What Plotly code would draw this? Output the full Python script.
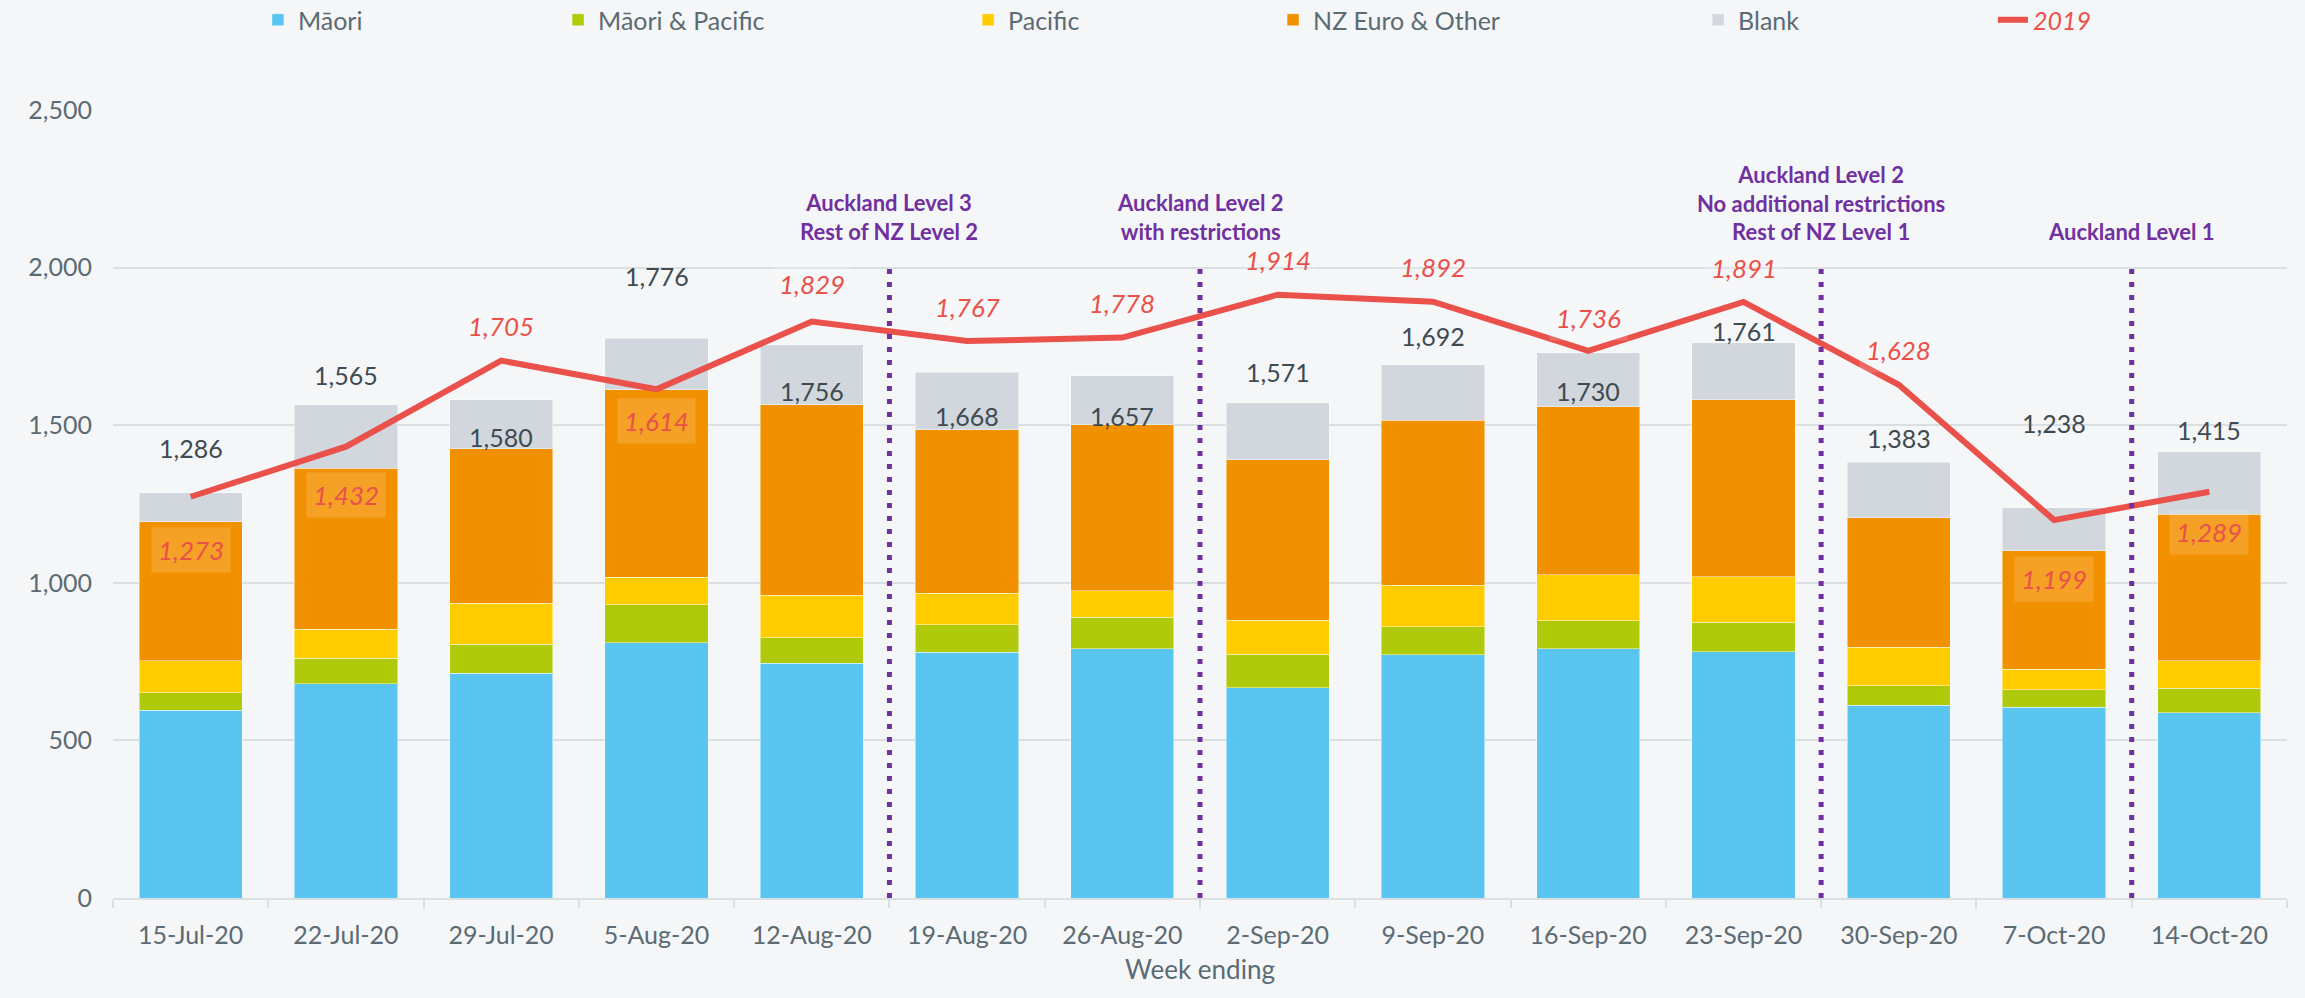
import plotly.graph_objects as go

weeks = ["15-Jul-20", "22-Jul-20", "29-Jul-20", "5-Aug-20", "12-Aug-20", "19-Aug-20",
         "26-Aug-20", "2-Sep-20", "9-Sep-20", "16-Sep-20", "23-Sep-20", "30-Sep-20",
         "7-Oct-20", "14-Oct-20"]

maori = [595, 680, 713, 810, 745, 780, 790, 667, 772, 790, 782, 612, 605, 588]
maori_pacific = [56, 80, 92, 120, 80, 87, 100, 107, 88, 90, 93, 62, 55, 77]
pacific = [102, 93, 130, 88, 135, 100, 85, 107, 133, 145, 145, 122, 65, 87]
nz_euro_other = [440, 510, 490, 594, 605, 518, 527, 509, 522, 533, 560, 410, 377, 465]
totals = [1286, 1565, 1580, 1776, 1756, 1668, 1657, 1571, 1692, 1730, 1761, 1383, 1238, 1415]
blank = [t - a - b - c - d for t, a, b, c, d in zip(totals, maori, maori_pacific, pacific, nz_euro_other)]
line_2019 = [1273, 1432, 1705, 1614, 1829, 1767, 1778, 1914, 1892, 1736, 1891, 1628, 1199, 1289]

events = ["Auckland Level 3<br>Rest of NZ Level 2",
          "Auckland Level 2<br>with restrictions",
          "Auckland Level 2<br>No additional restrictions<br>Rest of NZ Level 1",
          "Auckland Level 1"]
event_pos = [4.5, 6.5, 10.5, 12.5]   # between categories

# label placement (pixels, + = up)
total_shift = [45, 30, -37, 62, -46, -44, -40, 31, 29, -38, 12, 24, 85, 22]
line_shift = [-53, -48, 35, -32, 38, 34, 35, 35, 35, 33, 34, 35, -59, -40]

FONT = "Lato"
TXT = "#5b6b73"
BG = "#f5f6f8"
GRID = "#dadfe2"

fig = go.Figure()
series = [("Māori", maori, "#5bc5f2", "legend"),
          ("Māori & Pacific", maori_pacific, "#afca0b", "legend2"),
          ("Pacific", pacific, "#ffcc00", "legend3"),
          ("NZ Euro & Other", nz_euro_other, "#f29100", "legend4"),
          ("Blank", blank, "#d1d7dc", "legend5")]
for name, vals, col, lg in series:
    fig.add_trace(go.Bar(x=weeks, y=vals, name=name, marker_color=col,
                         marker_line=dict(width=1, color="rgba(255,255,255,0.45)"),
                         legend=lg, showlegend=True))

fig.add_trace(go.Scatter(x=weeks, y=line_2019, name="2019", mode="lines",
                         line=dict(color="#e9514a", width=6), legend="legend6",
                         showlegend=True))

annotations = []
for w, t, s in zip(weeks, totals, total_shift):
    annotations.append(dict(x=w, y=t, yshift=s, text=f"{t:,}", showarrow=False,
                            font=dict(family=FONT, size=25, color="#3e4b53")))
for w, v, s in zip(weeks, line_2019, line_shift):
    annotations.append(dict(x=w, y=v, yshift=s, text=f"{v:,}", showarrow=False,
                            bgcolor="rgba(255,255,255,0.15)", borderpad=6,
                            font=dict(family=FONT, size=26, color="#e9514a", style="italic")))
for txt, xp in zip(events, event_pos):
    annotations.append(dict(x=xp, y=2065, xref="x", yref="y", text=txt, showarrow=False,
                            yanchor="bottom", align="center",
                            font=dict(family=FONT, size=22, color="#7030a0", weight="bold")))

shapes = [dict(type="line", xref="x", yref="y", x0=xp, x1=xp, y0=0, y1=2000,
               line=dict(color="#7030a0", width=5, dash="5px,8px")) for xp in event_pos]

legend_x = [0.1119, 0.2421, 0.4200, 0.5523, 0.7367, 0.8646]
legend_keys = ["legend", "legend2", "legend3", "legend4", "legend5", "legend6"]
legend_layout = {}
for k, lx in zip(legend_keys, legend_x):
    legend_layout[k] = dict(x=lx, y=1 - 20 / 998, xref="container", yref="container",
                            xanchor="left", yanchor="middle", orientation="h",
                            bgcolor="rgba(0,0,0,0)",
                            font=dict(family=FONT, size=25,
                                      color="#e9514a" if k == "legend6" else TXT,
                                      style="italic" if k == "legend6" else "normal"))

fig.update_layout(
    width=2305, height=998,
    showlegend=True,
    barmode="stack", bargap=0.335,
    paper_bgcolor=BG, plot_bgcolor=BG,
    margin=dict(l=113, r=18, t=110, b=100),
    font=dict(family=FONT, size=25, color=TXT),
    annotations=annotations, shapes=shapes,
    **legend_layout,
)
fig.update_xaxes(type="category", showline=True, linecolor=GRID, linewidth=2,
                 ticks="outside", tickson="boundaries", ticklen=8, tickcolor=GRID, tickwidth=2,
                 ticklabelstandoff=14,
                 tickfont=dict(family=FONT, size=25, color=TXT),
                 title=dict(text="Week ending", standoff=13,
                            font=dict(family=FONT, size=26, color=TXT)))
fig.update_yaxes(range=[0, 2500], dtick=500, tickformat=",", showgrid=True,
                 gridcolor=GRID, gridwidth=2, zeroline=False, showline=False,
                 ticklabelstandoff=20,
                 tickfont=dict(family=FONT, size=25, color=TXT))

fig.write_html("out.html",
               config={"displayModeBar": False},
               post_script="document.body.style.margin='0';"
                           "document.body.style.background='#f5f6f8';")
